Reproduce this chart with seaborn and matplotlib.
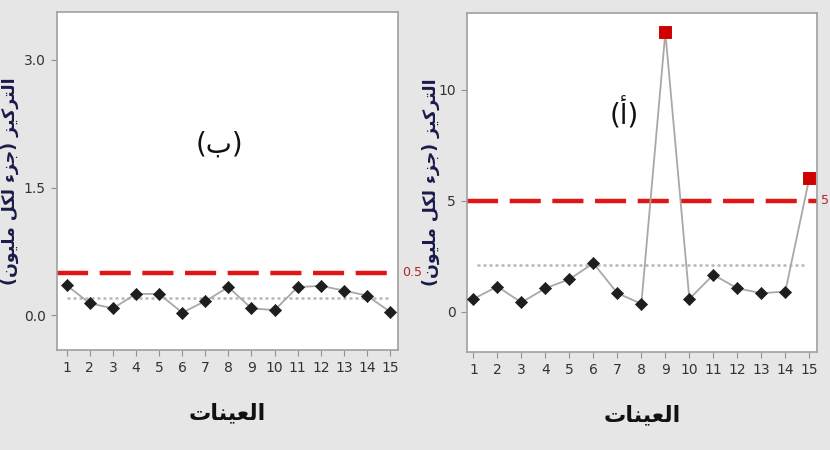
import numpy as np
import pandas as pd
import seaborn as sns
import matplotlib.pyplot as plt

# samples 1..15
samples = list(range(1, 16))
conc_b = [0.35, 0.14, 0.08, 0.25, 0.25, 0.03, 0.165, 0.33, 0.08, 0.06, 0.33, 0.345, 0.29, 0.23, 0.04]
conc_a = [0.57, 1.13, 0.41, 1.05, 1.46, 2.18, 0.83, 0.35, 12.6, 0.57, 1.66, 1.05, 0.83, 0.90, 6.02]
limit_b = 0.5
limit_a = 5
yticks_b = [0.0, 1.5, 3.0]
yticks_a = [0, 5, 10]

ylabel_txt = "التركيز (جزء لكل مليون)"
xlabel_txt = "العينات"
panel_b = "(ب)"
panel_a = "(أ)"

# matplotlib has no arabic shaping -> map letters to presentation forms by hand
FORMS = {
    'ا': (0xFE8D, 0xFE8E, None, None),
    'أ': (0xFE83, 0xFE84, None, None),
    'ب': (0xFE8F, 0xFE90, 0xFE91, 0xFE92),
    'ت': (0xFE95, 0xFE96, 0xFE97, 0xFE98),
    'ج': (0xFE9D, 0xFE9E, 0xFE9F, 0xFEA0),
    'ر': (0xFEAD, 0xFEAE, None, None),
    'ز': (0xFEAF, 0xFEB0, None, None),
    'ع': (0xFEC9, 0xFECA, 0xFECB, 0xFECC),
    'ك': (0xFED9, 0xFEDA, 0xFEDB, 0xFEDC),
    'ل': (0xFEDD, 0xFEDE, 0xFEDF, 0xFEE0),
    'م': (0xFEE1, 0xFEE2, 0xFEE3, 0xFEE4),
    'ن': (0xFEE5, 0xFEE6, 0xFEE7, 0xFEE8),
    'و': (0xFEED, 0xFEEE, None, None),
    'ي': (0xFEF1, 0xFEF2, 0xFEF3, 0xFEF4),
    'ء': (0xFE80, None, None, None),
}


def shape_ar(text):
    out = []
    for i, ch in enumerate(text):
        if ch not in FORMS:
            out.append(ch)
            continue
        iso, fin, ini, med = FORMS[ch]
        prev = text[i - 1] if i > 0 else ''
        nxt = text[i + 1] if i + 1 < len(text) else ''
        j_prev = prev in FORMS and FORMS[prev][2] is not None and fin is not None
        j_next = nxt in FORMS and FORMS[nxt][1] is not None and ini is not None
        if j_prev and j_next:
            out.append(chr(med))
        elif j_prev:
            out.append(chr(fin))
        elif j_next:
            out.append(chr(ini))
        else:
            out.append(chr(iso))
    vis = ''.join(reversed(out))
    return vis.translate(str.maketrans('()', ')('))


sns.set_style("white")
plt.rcParams['font.family'] = ['Liberation Sans Narrow', 'DejaVu Sans']

bg = '#e6e6e6'
fig = plt.figure(figsize=(8.3, 4.5), dpi=100, facecolor=bg)
ax_b = fig.add_axes([0.0687, 0.222, 0.411, 0.751])
ax_a = fig.add_axes([0.5623, 0.218, 0.422, 0.753])


def draw(ax, vals, limit, yticks, ylim, xlim, tag, tag_xy, lim_txt, ylab_x):
    df = pd.DataFrame({"sample": samples, "conc": vals})
    df["over"] = df["conc"] > limit
    mean = df["conc"].mean()
    ax.axhline(limit, color='#e01515', lw=3.2, dashes=(7, 2.6), zorder=2)
    ax.axhline(mean, color='#b8b8b8', lw=1.8, ls=(0, (1.2, 1.2)), zorder=1,
               xmin=0.03, xmax=0.97)
    sns.lineplot(data=df, x="sample", y="conc", ax=ax, color='#a8a8a8', lw=1.3, zorder=3)
    ok = df[~df["over"]]
    bad = df[df["over"]]
    sns.scatterplot(data=ok, x="sample", y="conc", ax=ax, marker='D', s=38,
                    color='#1e1e1e', edgecolor='#1e1e1e', zorder=4)
    if len(bad):
        sns.scatterplot(data=bad, x="sample", y="conc", ax=ax, marker='s', s=70,
                        color='#d00000', edgecolor='#d00000', zorder=4)
    ax.set_xlim(*xlim)
    ax.set_ylim(*ylim)
    ax.set_xticks(samples)
    ax.set_yticks(yticks)
    ax.set_yticklabels([str(t) for t in yticks])
    ax.tick_params(axis='both', labelsize=10, colors='#333333', length=4,
                   color='#909090', direction='out', pad=4)
    ax.tick_params(axis='both', left=True, bottom=True)
    for s in ax.spines.values():
        s.set_color('#a0a0a0')
        s.set_linewidth(1.2)
    ax.set_xlabel(shape_ar(xlabel_txt), family='DejaVu Sans', fontsize=16,
                  fontweight='bold', color='#111111', labelpad=20)
    ax.set_ylabel(shape_ar(ylabel_txt), family='DejaVu Sans', fontsize=12.5,
                  fontweight='bold', color='#1a1a4a')
    ax.yaxis.set_label_coords(ylab_x, 0.5)
    ax.text(tag_xy[0], tag_xy[1], shape_ar(tag), family='DejaVu Sans', fontsize=20,
            ha='center', va='center', color='#111111')
    ax.text(1.012, limit, lim_txt, transform=ax.get_yaxis_transform(), color='#b02525',
            fontsize=9, va='center', ha='left', clip_on=False)


draw(ax_b, conc_b, limit_b, yticks_b, (-0.41, 3.56), (0.58, 15.35), panel_b,
     (7.6, 2.0), "0.5", -0.11)
draw(ax_a, conc_a, limit_a, yticks_a, (-1.82, 13.47), (0.72, 15.32), panel_a,
     (7.3, 8.9), "5", -0.077)
ax_a.set_yticklabels(["0", "5", "10"])

fig.savefig("out.png", dpi=100, facecolor=bg)
